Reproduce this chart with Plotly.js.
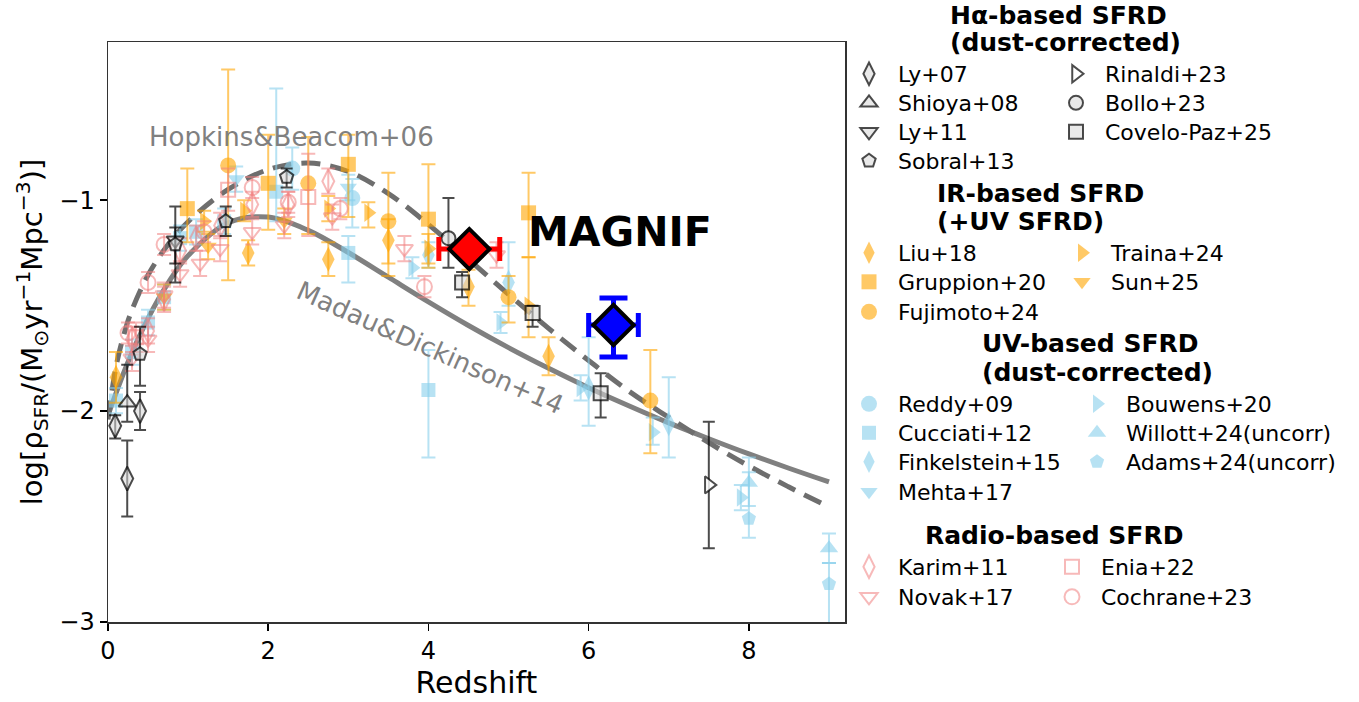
<!DOCTYPE html>
<html><head><meta charset="utf-8">
<script src="https://cdn.plot.ly/plotly-3.0.1.min.js"></script>
<style>html,body{margin:0;padding:0;background:#fff}#plot{width:1359px;height:702px}</style>
</head><body><div id="plot"></div>
<script>
// ---------- model curves ----------
const zMD = [0, 0.25, 0.5, 0.75, 1, 1.5, 2, 2.5, 3, 3.5, 4, 4.5, 5, 5.5, 6, 6.5, 7, 7.5, 8, 8.5, 9];
const logMD = [-2.02, -1.767, -1.56, -1.393, -1.263, -1.107, -1.08, -1.143, -1.248, -1.365, -1.482, -1.594, -1.699, -1.797, -1.889, -1.975, -2.056, -2.131, -2.203, -2.271, -2.336];
const zHB = [0, 0.1, 0.2, 0.3, 0.5, 0.75, 1, 1.5, 2, 2.5, 3, 3.5, 4, 4.5, 5, 5.5, 6, 6.5, 7, 7.5, 8, 8.5, 9];
const logHB = [-2.04, -1.79, -1.635, -1.52, -1.355, -1.21, -1.102, -0.949, -0.855, -0.824, -0.864, -0.969, -1.115, -1.28, -1.446, -1.608, -1.76, -1.905, -2.03, -2.15, -2.26, -2.36, -2.455];

// ---------- H-alpha ----------
const ly07_z = [0.09, 0.24, 0.40], ly07_y = [-2.07, -2.32, -2.00], ly07_lo = [-2.13, -2.50, -2.09], ly07_hi = [-2.02, -2.14, -1.91];
const shi08_z = [0.24], shi08_y = [-1.96], shi08_lo = [-2.05], shi08_hi = [-1.78];
const ly11_z = [0.84], ly11_y = [-1.19], ly11_lo = [-1.39], ly11_hi = [-1.03];
const sob13_z = [0.40, 0.84, 1.47, 2.23], sob13_y = [-1.73, -1.21, -1.10, -0.89], sob13_lo = [-1.88, -1.30, -1.17, -0.94], sob13_hi = [-1.60, -1.13, -1.03, -0.85];
const rin23_z = [7.5], rin23_y = [-2.35], rin23_lo = [-2.65], rin23_hi = [-2.05];
const bol23_z = [4.25], bol23_y = [-1.18], bol23_lo = [-1.32], bol23_hi = [-0.99];
const cov25_z = [4.42, 5.30, 6.15], cov25_y = [-1.39, -1.535, -1.915], cov25_lo = [-1.46, -1.60, -2.03], cov25_hi = [-1.34, -1.50, -1.82];

// ---------- IR ----------
const liu18_z = [0.1, 1.75, 2.75, 3.5, 4.5, 5.5], liu18_y = [-1.84, -1.25, -1.28, -1.19, -1.41, -1.74], liu18_lo = [-1.96, -1.31, -1.36, -1.30, -1.50, -1.83], liu18_hi = [-1.72, -1.19, -1.20, -1.09, -1.33, -1.65];
const gru20_z = [0.99, 2.0, 3.0, 4.0, 5.25], gru20_y = [-1.04, -0.92, -0.83, -1.09, -1.06], gru20_lo = [-1.20, -1.14, -1.08, -1.32, -1.27], gru20_hi = [-0.85, -0.69, -0.69, -0.83, -0.87];
const fuj24_z = [1.5, 2.5, 3.5, 5.0, 6.77], fuj24_y = [-0.835, -0.92, -1.10, -1.46, -1.95], fuj24_lo = [-1.38, -1.16, -1.36, -1.58, -2.20], fuj24_hi = [-0.38, -0.70, -0.87, -1.36, -1.71];
const tra24_z = [1.2, 1.7, 2.75, 3.25, 4.0, 5.25], tra24_y = [-1.10, -1.05, -1.04, -1.06, -1.23, -1.50], tra24_lo = [-1.15, -1.10, -1.10, -1.13, -1.30, -1.65], tra24_hi = [-1.05, -1.00, -0.98, -1.01, -1.16, -1.27];
const sun25_z = [0.7, 1.25, 2.2], sun25_y = [-1.46, -1.22, -1.10], sun25_lo = [-1.52, -1.28, -1.16], sun25_hi = [-1.40, -1.16, -1.04];

// ---------- UV ----------
const red09_z = [2.3, 3.05], red09_y = [-0.85, -0.99], red09_lo = [-0.95, -1.13], red09_hi = [-0.75, -0.90];
const cuc12_z = [0.1, 0.3, 0.5, 0.7, 0.9, 1.1, 1.45, 2.1, 3.0, 4.0], cuc12_y = [-1.95, -1.72, -1.58, -1.46, -1.18, -1.15, -1.10, -0.96, -1.25, -1.90];
const cuc12_lo = [-2.01, -1.78, -1.64, -1.52, -1.24, -1.21, -1.16, -1.10, -1.39, -2.22], cuc12_hi = [-1.89, -1.66, -1.52, -1.40, -1.12, -1.09, -1.04, -0.47, -1.17, -1.71];
const fin15_z = [4.0, 5.0, 6.0, 7.0], fin15_y = [-1.26, -1.39, -1.89, -2.06], fin15_lo = [-1.32, -1.50, -2.07, -2.22], fin15_hi = [-1.20, -1.20, -1.65, -1.84];
const meh17_z = [1.6, 3.0], meh17_y = [-0.90, -0.94], meh17_lo = [-0.96, -1.00], meh17_hi = [-0.84, -0.88];
const bou20_z = [3.8, 4.9, 5.9, 6.8, 7.9], bou20_y = [-1.32, -1.58, -1.89, -2.10, -2.41], bou20_lo = [-1.37, -1.63, -1.95, -2.16, -2.47], bou20_hi = [-1.27, -1.53, -1.83, -2.03, -2.35];
const wil24_z = [8.0, 9.0], wil24_y = [-2.34, -2.65], wil24_lo = [-2.45, -2.72], wil24_hi = [-2.22, -2.58];
const ada24_z = [8.0, 9.0], ada24_y = [-2.51, -2.82], ada24_lo = [-2.60, -3.10], ada24_hi = [-2.29, -2.72];

// ---------- Radio ----------
const kar11_z = [0.3, 0.5, 0.7, 0.9, 1.1, 1.4, 1.8, 2.25, 2.75], kar11_y = [-1.66, -1.62, -1.47, -1.24, -1.18, -1.12, -1.02, -1.02, -0.91];
const nov17_z = [0.3, 0.5, 0.7, 0.9, 1.15, 1.4, 1.8, 2.2, 2.8, 3.7, 4.85], nov17_y = [-1.75, -1.66, -1.45, -1.35, -1.30, -1.23, -1.15, -1.12, -1.08, -1.23, -1.26];
const eni22_z = [0.35, 1.5, 2.5], eni22_y = [-1.65, -0.95, -0.985], eni22_lo = [-1.72, -1.05, -1.17], eni22_hi = [-1.58, -0.85, -0.78];
const coc23_z = [0.25, 0.5, 0.7, 1.2, 1.8, 2.25, 2.9, 3.95], coc23_y = [-1.63, -1.39, -1.21, -1.15, -0.94, -1.01, -1.04, -1.41];

// ---------- MAGNIF ----------
const mag_z = [4.51, 6.31], mag_y = [-1.232, -1.592], mag_xerr = [0.38, 0.31], mag_yup = [0.03, 0.128], mag_ydn = [0.03, 0.152];

// ---------- labels ----------
const xTicks = [0, 2, 4, 6, 8], yTicks = [-3, -2, -1];

const FONT = 'DejaVu Sans, Liberation Sans, sans-serif';
const traces = [];
const layout = {};

traces.push({x: zMD, y: logMD, mode: 'lines', line: {color: 'rgb(128,128,128)', width: 5, shape: 'spline'}, showlegend: false, hoverinfo: 'skip'});
traces.push({x: zHB, y: logHB, mode: 'lines', line: {color: 'rgb(110,110,110)', width: 5, dash: '19px,10px', shape: 'spline'}, showlegend: false, hoverinfo: 'skip'});

const px2x = px => (px - 108) / 737;
const py2y = py => (622 - py) / 580;
let legN = 0;
function addLegend(mx, ry) {
  legN += 1;
  const key = legN === 1 ? 'legend' : 'legend' + legN;
  layout[key] = {x: px2x(mx - 29), y: py2y(ry - 20), xanchor: 'left', yanchor: 'top', bgcolor: 'rgba(0,0,0,0)', borderwidth: 0,
    font: {family: FONT, size: 22, color: '#000'}, tracegroupgap: 0, itemwidth: 48};
  return key;
}

function diff(a, b) { return a.map((v, i) => v - b[i]); }
function symErr(y, e) { return y.map(() => e); }

function series(name, z, y, lo, hi, opt) {
  const up = hi ? diff(hi, y) : symErr(y, opt.e || 0.06);
  const dn = lo ? diff(y, lo) : symErr(y, opt.e || 0.06);
  return {
    x: z, y: y, name: name, mode: 'markers', type: 'scatter', legend: addLegend(opt.pos[0], opt.pos[1]),
    marker: {symbol: opt.symbol, size: opt.size || 14, color: opt.fill, line: {color: opt.edge, width: opt.lw || 0}},
    error_y: {type: 'data', symmetric: false, array: up, arrayminus: dn, color: opt.ecolor, thickness: 2, width: opt.cap || 7},
    hoverinfo: 'x+y'
  };
}

const OR = 'rgba(255,165,0,0.6)', SB = 'rgba(135,206,235,0.6)', RC = 'rgba(240,128,128,0.55)';
const HE = 'rgba(0,0,0,0.7)', HF = 'rgba(215,215,215,0.55)';

// UV
traces.push(series('Reddy+09', red09_z, red09_y, red09_lo, red09_hi, {symbol: 'circle', fill: SB, ecolor: SB, size: 16, pos: [869, 403]}));
traces.push(series('Cucciati+12', cuc12_z, cuc12_y, cuc12_lo, cuc12_hi, {symbol: 'square', fill: SB, ecolor: SB, size: 14, pos: [869, 432]}));
traces.push(series('Finkelstein+15', fin15_z, fin15_y, fin15_lo, fin15_hi, {symbol: 'diamond-tall', fill: SB, ecolor: SB, size: 18, pos: [869, 461]}));
traces.push(series('Mehta+17', meh17_z, meh17_y, meh17_lo, meh17_hi, {symbol: 'triangle-down', fill: SB, ecolor: SB, size: 15, pos: [869, 491]}));
traces.push(series('Bouwens+20', bou20_z, bou20_y, bou20_lo, bou20_hi, {symbol: 'triangle-right', fill: SB, ecolor: SB, size: 16, pos: [1097, 403]}));
traces.push(series('Willott+24(uncorr)', wil24_z, wil24_y, wil24_lo, wil24_hi, {symbol: 'triangle-up', fill: SB, ecolor: SB, size: 16, pos: [1097, 432]}));
traces.push(series('Adams+24(uncorr)', ada24_z, ada24_y, ada24_lo, ada24_hi, {symbol: 'pentagon', fill: SB, ecolor: SB, size: 15, pos: [1097, 461]}));
// IR
traces.push(series('Liu+18', liu18_z, liu18_y, liu18_lo, liu18_hi, {symbol: 'diamond-tall', fill: OR, ecolor: OR, size: 18, pos: [869, 252]}));
traces.push(series('Gruppion+20', gru20_z, gru20_y, gru20_lo, gru20_hi, {symbol: 'square', fill: OR, ecolor: OR, size: 15, pos: [869, 281]}));
traces.push(series('Fujimoto+24', fuj24_z, fuj24_y, fuj24_lo, fuj24_hi, {symbol: 'circle', fill: OR, ecolor: OR, size: 16, pos: [869, 311]}));
traces.push(series('Traina+24', tra24_z, tra24_y, tra24_lo, tra24_hi, {symbol: 'triangle-right', fill: OR, ecolor: OR, size: 16, pos: [1082, 252]}));
traces.push(series('Sun+25', sun25_z, sun25_y, sun25_lo, sun25_hi, {symbol: 'triangle-down', fill: OR, ecolor: OR, size: 15, pos: [1082, 281]}));
// Radio
traces.push(series('Karim+11', kar11_z, kar11_y, null, null, {symbol: 'diamond-tall-open', fill: RC, edge: RC, lw: 2, ecolor: RC, size: 17, pos: [869, 566]}));
traces.push(series('Novak+17', nov17_z, nov17_y, null, null, {symbol: 'triangle-down-open', fill: RC, edge: RC, lw: 2, ecolor: RC, size: 15, pos: [869, 596]}));
traces.push(series('Enia+22', eni22_z, eni22_y, eni22_lo, eni22_hi, {symbol: 'square-open', fill: RC, edge: RC, lw: 2, ecolor: RC, size: 14, pos: [1072, 566]}));
traces.push(series('Cochrane+23', coc23_z, coc23_y, null, null, {symbol: 'circle-open', fill: RC, edge: RC, lw: 2, ecolor: RC, size: 15, e: 0.05, pos: [1072, 596]}));
// H-alpha
traces.push(series('Ly+07', ly07_z, ly07_y, ly07_lo, ly07_hi, {symbol: 'diamond-tall', fill: HF, edge: HE, lw: 2, ecolor: HE, size: 17, cap: 6, pos: [869, 73]}));
traces.push(series('Shioya+08', shi08_z, shi08_y, shi08_lo, shi08_hi, {symbol: 'triangle-up', fill: HF, edge: HE, lw: 2, ecolor: HE, size: 15, cap: 6, pos: [869, 102]}));
traces.push(series('Ly+11', ly11_z, ly11_y, ly11_lo, ly11_hi, {symbol: 'triangle-down', fill: HF, edge: HE, lw: 2, ecolor: HE, size: 15, cap: 6, pos: [869, 131]}));
traces.push(series('Sobral+13', sob13_z, sob13_y, sob13_lo, sob13_hi, {symbol: 'pentagon', fill: HF, edge: HE, lw: 2, ecolor: HE, size: 14, cap: 6, pos: [869, 160]}));
traces.push(series('Rinaldi+23', rin23_z, rin23_y, rin23_lo, rin23_hi, {symbol: 'triangle-right', fill: 'rgba(255,255,255,0.8)', edge: HE, lw: 2, ecolor: HE, size: 15, cap: 6, pos: [1076, 73]}));
traces.push(series('Bollo+23', bol23_z, bol23_y, bol23_lo, bol23_hi, {symbol: 'circle', fill: HF, edge: HE, lw: 2, ecolor: HE, size: 14, cap: 6, pos: [1076, 102]}));
traces.push(series('Covelo-Paz+25', cov25_z, cov25_y, cov25_lo, cov25_hi, {symbol: 'square', fill: HF, edge: HE, lw: 2, ecolor: HE, size: 14, cap: 6, pos: [1076, 131]}));

// MAGNIF
['#ff0000', '#0000ff'].forEach((c, i) => {
  traces.push({
    x: [mag_z[i]], y: [mag_y[i]], mode: 'markers', showlegend: false,
    marker: {symbol: 'diamond', size: 31, color: c, line: {color: '#000', width: 4}},
    error_x: {type: 'data', array: [mag_xerr[i]], color: c, thickness: 5, width: 12},
    error_y: {type: 'data', symmetric: false, array: [mag_yup[i]], arrayminus: [mag_ydn[i]], color: c, thickness: 5, width: 14}
  });
});

function head(text, px, py) {
  return {text: '<b>' + text + '</b>', xref: 'paper', yref: 'paper', x: px2x(px), y: py2y(py), xanchor: 'left', yanchor: 'middle',
    showarrow: false, font: {family: FONT, size: 25, color: '#000'}};
}

Object.assign(layout, {
  width: 1359, height: 702,
  margin: {l: 108, r: 514, t: 42, b: 80},
  paper_bgcolor: '#fff', plot_bgcolor: '#fff',
  font: {family: FONT, color: '#000'},
  xaxis: {range: [0, 9.2], tickvals: xTicks, ticks: 'outside', ticklen: 7, tickwidth: 1.5, tickcolor: '#000',
    showline: true, linecolor: '#333', linewidth: 1.5, mirror: true, showgrid: false, zeroline: false,
    tickfont: {family: FONT, size: 24}, title: {text: 'Redshift', font: {family: FONT, size: 30}, standoff: 6}},
  yaxis: {range: [-3, -0.25], tickvals: yTicks, ticks: 'outside', ticklen: 7, tickwidth: 1.5, tickcolor: '#000',
    showline: true, linecolor: '#333', linewidth: 1.5, mirror: true, showgrid: false, zeroline: false,
    tickfont: {family: FONT, size: 24},
    title: {text: 'log[ρ<sub>SFR</sub>/(M<sub>⊙</sub>yr<sup>−1</sup>Mpc<sup>−3</sup>)]', font: {family: FONT, size: 29}, standoff: 8}},
  annotations: [
    head('Hα-based SFRD', 948, 15), head('(dust-corrected)', 948, 42),
    head('IR-based SFRD', 935, 193), head('(+UV SFRD)', 935, 221),
    head('UV-based SFRD', 980, 343), head('(dust-corrected)', 980, 372),
    head('Radio-based SFRD', 923, 535),
    {text: 'Hopkins&Beacom+06', x: 0.49, y: -0.70, xref: 'x', yref: 'y', xanchor: 'left', yanchor: 'middle', showarrow: false,
      font: {family: FONT, size: 26, color: 'rgb(128,128,128)'}},
    {text: 'Madau&Dickinson+14', x: 4.03, y: -1.70, xref: 'x', yref: 'y', xanchor: 'center', yanchor: 'middle', showarrow: false,
      textangle: 24, font: {family: FONT, size: 26, color: 'rgb(128,128,128)'}},
    {text: '<b>MAGNIF</b>', x: 6.39, y: -1.15, xref: 'x', yref: 'y', xanchor: 'center', yanchor: 'middle', showarrow: false,
      font: {family: FONT, size: 41, color: '#000'}}
  ]
});

Plotly.newPlot('plot', traces, layout, {displayModeBar: false, staticPlot: true});
</script></body></html>
